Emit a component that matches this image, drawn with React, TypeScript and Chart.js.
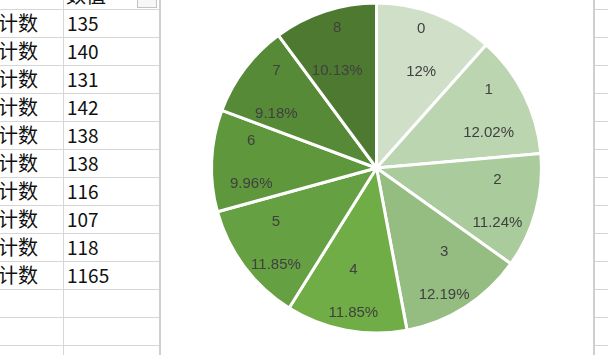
import React, { useEffect, useRef } from 'react';
import { Chart, registerables } from 'chart.js';
Chart.register(...registerables);

// ---- data ----
const categories = ['0', '1', '2', '3', '4', '5', '6', '7', '8'];
const counts = [135, 140, 131, 142, 138, 138, 116, 107, 118];
const percentLabels = ['12%', '12.02%', '11.24%', '12.19%', '11.85%', '11.85%', '9.96%', '9.18%', '10.13%'];
const sliceColors = ['#d0e0c8', '#bcd5b1', '#aacb9c', '#95bd82', '#70ad47', '#65a042', '#5e973c', '#568a36', '#4d7a30'];
const tableHeader = '数值';
const rowLabel = '计数';
const tableValues = ['135', '140', '131', '142', '138', '138', '116', '107', '118', '1165'];

const ROW_TOP = 9;
const ROW_H = 28;
const GRID = '#d6d6d6';

const labelPlugin = {
  id: 'sliceLabels',
  afterDatasetsDraw(chart: any) {
    const ctx = chart.ctx;
    const meta = chart.getDatasetMeta(0);
    ctx.save();
    ctx.font = '15px "Liberation Sans", Arial, sans-serif';
    ctx.fillStyle = '#404040';
    ctx.textAlign = 'center';
    ctx.textBaseline = 'middle';
    meta.data.forEach((arc: any, i: number) => {
      const p = arc.getProps(['x', 'y', 'startAngle', 'endAngle', 'outerRadius'], true);
      const mid = (p.startAngle + p.endAngle) / 2;
      const r = p.outerRadius * 0.76;
      const cx = p.x + Math.cos(mid) * r;
      const cy = p.y + Math.sin(mid) * r;
      ctx.fillText(categories[i], cx, cy - 21.5);
      ctx.fillText(percentLabels[i], cx, cy + 21.5);
    });
    ctx.restore();
  },
};

function PieChart() {
  const ref = useRef<HTMLCanvasElement | null>(null);
  useEffect(() => {
    if (!ref.current) return;
    const chart = new Chart(ref.current, {
      type: 'pie',
      data: {
        labels: categories,
        datasets: [
          {
            data: counts,
            backgroundColor: sliceColors,
            borderColor: '#ffffff',
            borderWidth: 3,
          },
        ],
      },
      options: {
        responsive: false,
        animation: false,
        radius: 165,
        layout: { padding: 0 },
        plugins: {
          legend: { display: false },
          tooltip: { enabled: false },
        },
      } as any,
      plugins: [labelPlugin],
    });
    return () => chart.destroy();
  }, []);
  return (
    <canvas
      ref={ref}
      width={433}
      height={336}
      style={{ position: 'absolute', left: 160, top: 0, width: 433, height: 336 }}
    />
  );
}

export default function App() {
  const hLines = [];
  for (let k = 0; k < 13; k++) hLines.push(ROW_TOP + k * ROW_H);
  return (
    <div
      style={{
        position: 'fixed',
        left: 0,
        top: 0,
        width: 608,
        height: 355,
        background: '#ffffff',
        overflow: 'hidden',
        fontFamily: '"Noto Sans CJK SC", sans-serif',
      }}
    >
      {/* left table grid */}
      {hLines.map((y) => (
        <div key={'l' + y} style={{ position: 'absolute', left: 0, top: y, width: 160, height: 1, background: GRID }} />
      ))}
      {hLines.map((y) => (
        <div key={'r' + y} style={{ position: 'absolute', left: 594, top: y, width: 14, height: 1, background: GRID }} />
      ))}
      <div style={{ position: 'absolute', left: 63, top: 0, width: 1, height: 355, background: GRID }} />
      <div style={{ position: 'absolute', left: 159, top: 0, width: 2, height: 355, background: '#cfcfcf' }} />
      <div style={{ position: 'absolute', left: 593, top: 0, width: 2, height: 355, background: '#cfcfcf' }} />
      {/* header */}
      <div style={{ position: 'absolute', left: 66, top: -17, fontSize: 20, lineHeight: '24px', color: '#111' }}>{tableHeader}</div>
      <div
        style={{
          position: 'absolute',
          left: 137,
          top: -12,
          width: 18,
          height: 18,
          border: '1px solid #c4c4c4',
          background: '#f7f7f7',
        }}
      />
      {/* rows */}
      {tableValues.map((v, i) => (
        <React.Fragment key={i}>
          <div
            style={{
              position: 'absolute',
              left: -2,
              top: ROW_TOP + i * ROW_H,
              height: ROW_H,
              lineHeight: ROW_H + 'px',
              fontSize: 20,
              color: '#111',
              whiteSpace: 'nowrap',
            }}
          >
            {rowLabel}
          </div>
          <div
            style={{
              position: 'absolute',
              left: 67,
              top: ROW_TOP + i * ROW_H,
              height: ROW_H,
              lineHeight: ROW_H + 'px',
              fontSize: 19,
              color: '#111',
              whiteSpace: 'nowrap',
            }}
          >
            {v}
          </div>
        </React.Fragment>
      ))}
      <PieChart />
    </div>
  );
}
